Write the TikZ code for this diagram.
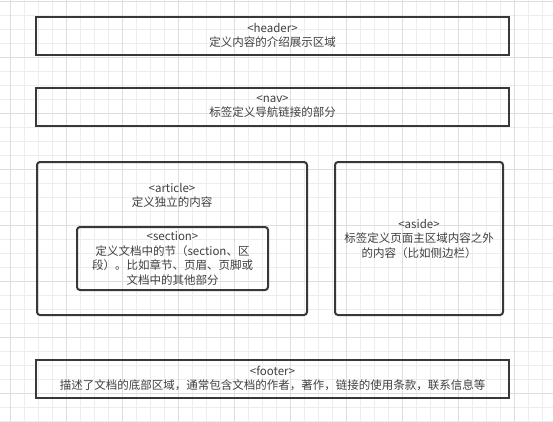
\documentclass[tikz,border=0pt]{standalone}
\usepackage{fontspec}
\setmainfont{Noto Sans CJK SC}
\colorlet{block line color}{black!78}
\colorlet{block text color}{black!75}
\colorlet{grid minor color}{black!7}
\colorlet{grid major color}{black!13}
\tikzset{
    x={1pt},
    y={-1pt},
    grid line/.style={
        draw={#1},
        line width={1pt},
    },
    block text/.style={
        align=center,
        text=block text color,
        font={\fontsize{11.5}{14.5}\selectfont},
    },
    block/.style={
        block text,
        draw=block line color,
        line width={2pt},
        inner sep=0pt,
        outer sep=0pt,
    },
    page block/.style={
        block,
        minimum width={473},
        minimum height={38},
    },
    rounded block/.style 2 args={
        block,
        rounded corners={3pt},
        minimum width={#1},
        minimum height={#2},
    },
}

\begin{document}
\begin{tikzpicture}
\useasboundingbox (0,0) rectangle (553,421);
% background grid
\fill[white] (0,0) rectangle (553,421);
\foreach \i [evaluate=\i as \gx using 10.7+14*\i] in {-1,...,39}
    \path[grid line={grid minor color}] (\gx,0) -- (\gx,421);
\foreach \j [evaluate=\j as \gy using 1.3+14*\j] in {0,...,30}
    \path[grid line={grid minor color}] (0,\gy) -- (553,\gy);
\foreach \i [evaluate=\i as \gx using 10.7+56*\i] in {0,...,9}
    \path[grid line={grid major color}] (\gx,0) -- (\gx,421);
\foreach \j [evaluate=\j as \gy using 1.3+56*\j] in {0,...,7}
    \path[grid line={grid major color}] (0,\gy) -- (553,\gy);
% page blocks
\node[page block] (header) at (272.5,35.5) {<header>\\定义内容的介绍展示区域};
\node[page block] (nav) at (272.5,106.5) {<nav>\\标签定义导航链接的部分};
\node[rounded block={270}{153}] (article) at (172,238.5) {};
\node[block text] (article title) at (172,195.5) {<article>\\定义独立的内容};
\node[rounded block={191}{63}] (section) at (172.5,258.5) {<section>\\定义文档中的节（section、区\\段）。比如章节、页眉、页脚或\\文档中的其他部分};
\node[rounded block={168}{153}] (aside) at (419,238.5) {<aside>\\标签定义页面主区域内容之外\\的内容（比如侧边栏）};
\node[page block] (footer) at (272.5,378.5) {<footer>\\描述了文档的底部区域，通常包含文档的作者，著作，链接的使用条款，联系信息等};
\end{tikzpicture}
\end{document}
